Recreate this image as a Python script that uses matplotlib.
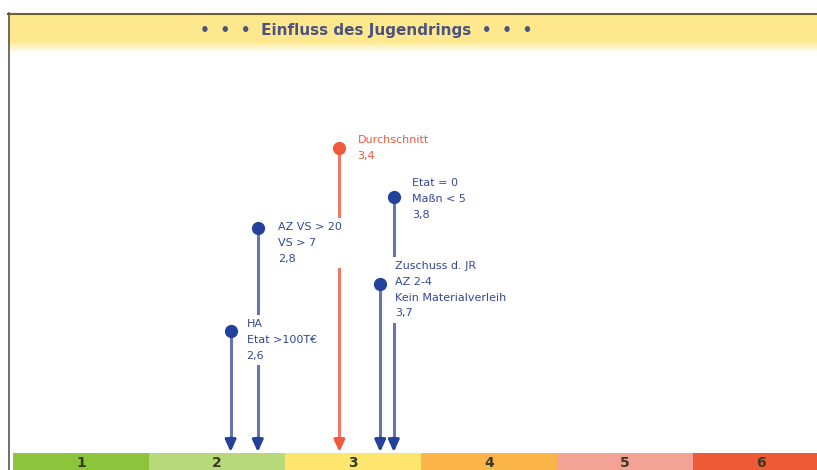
import numpy as np
import matplotlib.pyplot as plt
from matplotlib.patches import Rectangle

# Werte der Kategorien (Notenskala 1-6)
grades = [1, 2, 3, 4, 5, 6]
grade_colors = ['#8cc43c', '#b8d97a', '#fde56e', '#fbb448', '#f4a196', '#ef5a36']

# Einzelwerte mit Beschriftung
labels = ['HA\nEtat >100T€\n2,6',
          'AZ VS > 20\nVS > 7\n2,8',
          'Durchschnitt\n3,4',
          'Zuschuss d. JR\nAZ 2-4\nKein Materialverleih\n3,7',
          'Etat = 0\nMaßn < 5\n3,8']
values = [2.6, 2.8, 3.4, 3.7, 3.8]
is_mean = [False, False, True, False, False]
# Layout: Höhe der Punkte, erste Textzeile, Textabstand (Pixel)
dot_y = [331, 228, 148, 284, 197]
label_y = [325, 228, 141, 267, 184]
label_dx = [16, 20, 18, 15, 18]

title = '•  •  •  Einfluss des Jugendrings  •  •  •'

W, H = 817, 470
fig = plt.figure(figsize=(W / 100, H / 100), dpi=100)
ax = fig.add_axes([0, 0, 1, 1])
px = 136  # pixel je Note
x0 = 1 - 13 / px
ax.set_xlim(x0, x0 + W / px)
ax.set_ylim(H, 0)
ax.axis('off')

def to_x(p):
    return x0 + p / px

# Kopfzeile mit Farbverlauf
grad = np.ones((60, 1, 3))
yellow = np.array([253, 232, 142]) / 255
for i in range(60):
    t = 1.0 if i < 28 else max(0.0, 1 - (i - 28) / 11)
    grad[i, 0] = yellow * t + (1 - t)
ax.imshow(grad, extent=[to_x(8), to_x(W), 13 + 60, 13], aspect='auto', zorder=0)
ax.plot([to_x(8), to_x(W)], [13.5, 13.5], color='#6e6030', lw=1.5, zorder=2)
ax.plot([to_x(8.5), to_x(8.5)], [13, H], color='#555555', lw=1.2, zorder=2)
ax.text(to_x(366), 30, title, ha='center', va='center', fontsize=11,
        fontweight='bold', color='#4d5380')

# Farbskala unten
for g, c in zip(grades, grade_colors):
    ax.add_patch(Rectangle((g, 453), 1, 20, color=c, lw=0, zorder=1))
    ax.text(g + 0.5, 463, str(g), ha='center', va='center', fontsize=10,
            fontweight='bold', color='#3a3a22', zorder=3)

# Stiele, Pfeile, Punkte
for v, lab, m, y, ly, dx in zip(values, labels, is_mean, dot_y, label_y, label_dx):
    dot_c = '#ef5a3c' if m else '#23409a'
    stem_c = '#f07a66' if m else '#6674b4'
    txt_c = '#ef5a3c' if m else '#34479a'
    ax.plot([v, v], [y, 442], color=stem_c, lw=2.2, zorder=1)
    ax.annotate('', xy=(v, 452), xytext=(v, 438),
                arrowprops=dict(arrowstyle='-|>,head_length=0.7,head_width=0.32',
                                color=dot_c, lw=2.2, shrinkA=0, shrinkB=0),
                zorder=1)
    ax.plot(v, y, 'o', ms=8.5, color=dot_c, zorder=4)
    ax.text(v + dx / px, ly - 6, lab, ha='left', va='top', fontsize=8,
            color=txt_c, linespacing=1.72, zorder=3,
            bbox=dict(facecolor='white', edgecolor='none', pad=3))

fig.savefig('out.png', dpi=100)
